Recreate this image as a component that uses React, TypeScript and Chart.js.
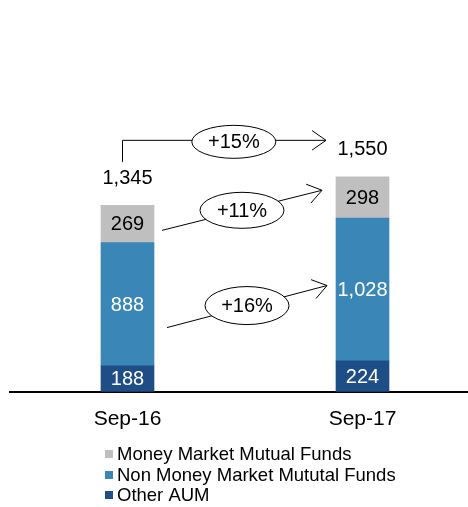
import { useEffect, useRef } from 'react';
import { Chart, registerables } from 'chart.js';

Chart.register(...registerables);

const categories = ['Sep-16', 'Sep-17'];
const otherAum = [188, 224];
const nonMoneyMarket = [888, 1028];
const moneyMarket = [269, 298];
const totals = [1345, 1550];
const totalLabels = ['1,345', '1,550'];
const seriesNames = ['Money Market Mutual Funds', 'Non Money Market Mututal Funds', 'Other AUM'];
const growthLabels = ['+15%', '+11%', '+16%'];
const yMax = 2000;

const COLORS = { mm: '#BFBFBF', nonMm: '#3A87B7', other: '#1F4E87' };
const FONT = '"Liberation Sans", Arial, sans-serif';
const f = (s: number) => `${s}px ${FONT}`;

const fmt = (v: number) => v.toLocaleString('en-US');

// annotation geometry (anchored to data values via the y scale)
const arrowSpecs = [
  { label: growthLabels[0], kind: 'elbow', fromValue: 1658, toValue: 1813, fromDx: -5, toDx: -10, t: 0.547, ry: 16.5, dy: 1.5 },
  { label: growthLabels[1], kind: 'line', fromValue: 1164, toValue: 1453, fromDx: 8, toDx: -14, t: 0.5, ry: 18, dy: 0 },
  { label: growthLabels[2], kind: 'line', fromValue: 463, toValue: 766, fromDx: 13, toDx: -9, t: 0.5, ry: 19, dy: -1 },
];

function arrowHead(ctx: CanvasRenderingContext2D, fx: number, fy: number, tx: number, ty: number) {
  const ang = Math.atan2(ty - fy, tx - fx);
  const len = 17;
  const spread = (35 * Math.PI) / 180;
  ctx.beginPath();
  ctx.moveTo(tx + len * Math.cos(ang + Math.PI - spread), ty + len * Math.sin(ang + Math.PI - spread));
  ctx.lineTo(tx, ty);
  ctx.lineTo(tx + len * Math.cos(ang + Math.PI + spread), ty + len * Math.sin(ang + Math.PI + spread));
  ctx.stroke();
}

const annotPlugin = {
  id: 'annot',
  afterDatasetsDraw(chart: any) {
    const ctx: CanvasRenderingContext2D = chart.ctx;
    const yScale = chart.scales.y;
    ctx.save();
    ctx.textAlign = 'center';
    ctx.textBaseline = 'middle';
    ctx.font = f(20);
    // segment labels
    chart.data.datasets.forEach((ds: any, di: number) => {
      const meta = chart.getDatasetMeta(di);
      meta.data.forEach((bar: any, i: number) => {
        const p = bar.getProps(['x', 'y', 'base'], true);
        ctx.fillStyle = ds.labelColor;
        ctx.fillText(fmt(ds.data[i]), p.x, (p.y + p.base) / 2 + 1);
      });
    });
    // totals
    const topMeta = chart.getDatasetMeta(chart.data.datasets.length - 1);
    topMeta.data.forEach((bar: any, i: number) => {
      const p = bar.getProps(['x', 'y'], true);
      ctx.fillStyle = '#000';
      ctx.fillText(totalLabels[i] ?? fmt(totals[i]), p.x, p.y - 27);
    });

    // arrows
    const b0 = chart.getDatasetMeta(0).data[0].getProps(['x', 'width'], true);
    const b1 = chart.getDatasetMeta(0).data[1].getProps(['x', 'width'], true);
    const b0Right = b0.x + b0.width / 2;
    const b1Left = b1.x - b1.width / 2;
    ctx.strokeStyle = '#000';
    ctx.lineWidth = 1;
    arrowSpecs.forEach((s) => {
      const fy = yScale.getPixelForValue(s.fromValue);
      const ty = yScale.getPixelForValue(s.toValue);
      const tx = b1Left + s.toDx;
      let fx: number;
      let ex: number, ey: number;
      if (s.kind === 'elbow') {
        fx = b0.x + s.fromDx;
        ctx.beginPath();
        ctx.moveTo(fx, fy);
        ctx.lineTo(fx, ty);
        ctx.lineTo(tx, ty);
        ctx.stroke();
        arrowHead(ctx, fx, ty, tx, ty);
        ex = fx + s.t * (tx - fx);
        ey = ty + s.dy;
      } else {
        fx = b0Right + s.fromDx;
        ctx.beginPath();
        ctx.moveTo(fx, fy);
        ctx.lineTo(tx, ty);
        ctx.stroke();
        arrowHead(ctx, fx, fy, tx, ty);
        ex = fx + s.t * (tx - fx);
        ey = fy + s.t * (ty - fy) + s.dy;
      }
      ctx.beginPath();
      ctx.ellipse(ex, ey, 42, s.ry, 0, 0, Math.PI * 2);
      ctx.fillStyle = '#fff';
      ctx.fill();
      ctx.stroke();
      ctx.fillStyle = '#000';
      ctx.font = f(20);
      ctx.fillText(s.label, ex, ey + 1);
    });
    ctx.restore();
  },
  afterDraw(chart: any) {
    const ctx: CanvasRenderingContext2D = chart.ctx;
    const colors = [COLORS.mm, COLORS.nonMm, COLORS.other];
    const rows = [454, 475, 495];
    ctx.save();
    ctx.font = f(18.5);
    ctx.textAlign = 'left';
    ctx.textBaseline = 'middle';
    seriesNames.forEach((name, i) => {
      ctx.fillStyle = colors[i];
      ctx.fillRect(105, rows[i] - 4, 8, 8);
      ctx.fillStyle = '#000';
      ctx.fillText(name, 117, rows[i] + 1);
    });
    ctx.restore();
  },
};

export default function App() {
  const ref = useRef<HTMLCanvasElement | null>(null);
  useEffect(() => {
    if (!ref.current) return;
    const chart = new Chart(ref.current, {
      type: 'bar',
      data: {
        labels: categories,
        datasets: [
          { label: seriesNames[2], data: otherAum, backgroundColor: COLORS.other, labelColor: '#fff' } as any,
          { label: seriesNames[1], data: nonMoneyMarket, backgroundColor: COLORS.nonMm, labelColor: '#fff' } as any,
          { label: seriesNames[0], data: moneyMarket, backgroundColor: COLORS.mm, labelColor: '#000' } as any,
        ],
      },
      options: {
        animation: false,
        responsive: true,
        maintainAspectRatio: false,
        layout: { padding: { top: 114.4, left: 10, right: 10, bottom: 60 } },
        datasets: { bar: { barThickness: 53 } },
        plugins: { legend: { display: false }, tooltip: { enabled: false } },
        scales: {
          x: {
            stacked: true,
            grid: { display: false, drawTicks: false },
            border: { display: true, color: '#000', width: 2 },
            ticks: { color: '#000', font: { family: FONT, size: 21 }, padding: 15 },
          },
          y: {
            stacked: true,
            display: false,
            min: 0,
            max: yMax,
          },
        },
      },
      plugins: [annotPlugin],
    });
    return () => chart.destroy();
  }, []);
  return (
    <div style={{ position: 'fixed', left: 0, top: 0, width: 468, height: 507, overflow: 'hidden', background: '#fff' }}>
      <div style={{ position: 'relative', width: 490, height: 507 }}>
        <canvas ref={ref} />
      </div>
    </div>
  );
}
